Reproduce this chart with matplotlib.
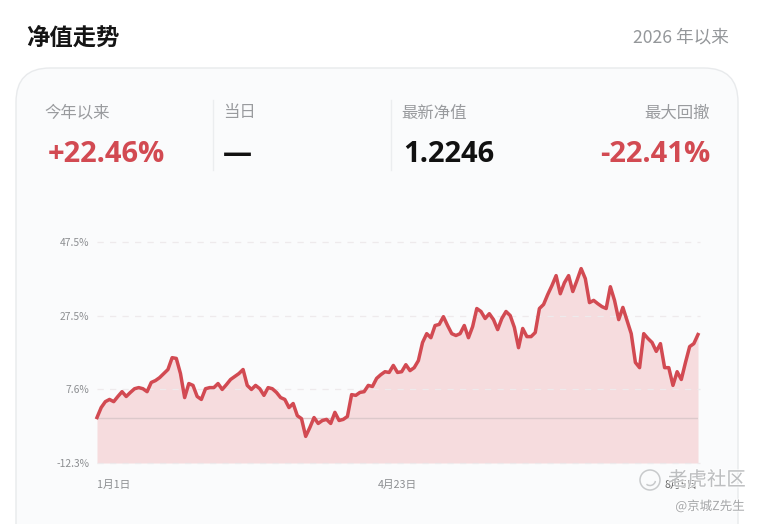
import matplotlib
matplotlib.use("Agg")
import matplotlib.pyplot as plt
from matplotlib.patches import FancyBboxPatch, Circle, Arc
import matplotlib.patheffects as pe

plt.rcParams['font.family'] = ['Noto Sans CJK SC', 'DejaVu Sans']

# Return since the start of the year, percent, one value per trading day
returns = [
    0.0, 2.7, 4.3, 4.9, 4.3, 5.7, 7.0, 5.7, 6.8, 7.8, 8.1, 7.8, 7.0, 9.5, 10.0, 10.8,
    11.9, 13.0, 16.2, 16.0, 11.9, 5.4, 9.2, 8.7, 5.7, 4.9, 7.8, 8.1, 8.1, 9.2, 7.6, 8.9,
    10.3, 11.1, 11.9, 13.0, 8.7, 7.6, 8.7, 7.8, 6.0, 8.1, 7.8, 6.8, 5.4, 4.9, 2.7, 3.8,
    0.5, -0.3, -5.1, -2.7, 0.0, -1.6, -0.8, -0.5, -1.6, 1.4, -0.8, -0.5, 0.3, 6.2, 6.0,
    6.8, 7.0, 8.7, 8.4, 10.6, 11.6, 12.4, 12.2, 14.1, 12.2, 12.4, 14.3, 12.7, 13.5, 15.4,
    20.3, 22.7, 21.6, 24.9, 25.2, 27.3, 24.9, 22.7, 22.2, 22.7, 24.9, 21.6, 24.6, 29.5,
    28.7, 26.8, 28.1, 26.5, 23.8, 26.8, 28.7, 27.6, 24.4, 18.9, 24.1, 21.9, 21.9, 23.0,
    29.5, 30.6, 33.3, 35.7, 38.4, 33.5, 36.5, 38.4, 34.1, 37.1, 40.3, 37.6, 31.1, 31.7,
    30.8, 30.0, 29.5, 35.4, 31.7, 26.5, 29.8, 26.2, 22.7, 14.9, 13.5, 22.7, 21.4, 20.3,
    17.9, 20.0, 13.5, 13.5, 8.7, 12.4, 10.3, 14.9, 19.2, 20.0, 22.46,
]
y_ticks = [-12.3, 7.6, 27.5, 47.5]
y_tick_labels = ['-12.3%', '7.6%', '27.5%', '47.5%']
date_labels = ['1月1日', '4月23日', '8月5日']

stat_names = ['今年以来', '当日', '最新净值', '最大回撤']
stat_values = ['+22.46%', '—', '1.2246', '-22.41%']

W, H = 760, 524
RED = '#d24a52'
GREY = '#999b9e'


def px(x, y):
    return x / W, 1 - y / H


fig = plt.figure(figsize=(W / 100, H / 100), dpi=100, facecolor='white')

# page layer in pixel coordinates, y going down
bg = fig.add_axes([0, 0, 1, 1])
bg.set_xlim(0, W)
bg.set_ylim(H, 0)
bg.axis('off')
card = FancyBboxPatch((16, 68), 722, 520, boxstyle='round,pad=0,rounding_size=34',
                      fc='#fafbfc', ec='#e8eaec', lw=1.0)
bg.add_patch(card)
bg.plot([213, 213], [100, 170], color='#ebedef', lw=1)
bg.plot([391, 391], [100, 170], color='#ebedef', lw=1)

fig.text(*px(26, 37.5), '净值走势', fontsize=16.8, fontweight='bold', color='#151515', va='center')
fig.text(*px(729, 37.5), '2026 年以来', fontsize=12.7, color='#94979a', va='center', ha='right')

# stat row
label_x = [44, 223, 401, 710]
value_x = [48, 223, 403, 710]
for i in range(4):
    ha = 'right' if i == 3 else 'left'
    fig.text(*px(label_x[i], 113), stat_names[i], fontsize=11.8, color=GREY, va='center', ha=ha)
    col = RED if i in (0, 3) else '#111111'
    fig.text(*px(value_x[i], 154), stat_values[i], fontsize=21, fontweight='bold', color=col,
             va='center', ha=ha, family=['Open Sans', 'Noto Sans CJK SC'])

# chart
ax = fig.add_axes([97 / W, 1 - 463 / H, 601 / W, 221 / H])
ax.patch.set_alpha(0)
x = list(range(len(returns)))
ax.fill_between(x, returns, y_ticks[0], color='#f6dcde', lw=0, zorder=1)
ax.axhline(0, color='#dcc9cb', lw=1, zorder=2)
for t in y_ticks:
    ax.plot([0, len(returns) - 0.5], [t, t], color='#eeeaec', lw=0.9, dashes=(5, 5), zorder=2,
            clip_on=False)
ax.plot(x, returns, color=RED, lw=2.5, solid_joinstyle='round', zorder=3, clip_on=False)
ax.set_xlim(0, len(returns) - 1)
ax.set_ylim(y_ticks[0], y_ticks[-1])
for s in ax.spines.values():
    s.set_visible(False)
ax.set_yticks(y_ticks, y_tick_labels, fontsize=7.4, color='#8c8e91')
ax.set_xticks([0, (len(returns) - 1) / 2, len(returns) - 1], date_labels, fontsize=7.7, color='#8c8e91')
ax.tick_params(axis='x', length=0, pad=12)
ax.tick_params(axis='y', length=0, pad=5.5)
xlabels = ax.get_xticklabels()
xlabels[0].set_ha('left')
xlabels[2].set_ha('right')
xlabels[2].set_color('#666666')

# watermark over the corner
halo = [pe.withStroke(linewidth=1.5, foreground='white', alpha=0.7)]
bg2 = fig.add_axes([0, 0, 1, 1])
bg2.set_xlim(0, W)
bg2.set_ylim(H, 0)
bg2.axis('off')
bg2.add_patch(Circle((650, 480), 10, fc='none', ec='#c8cacc', lw=1.1))
bg2.add_patch(Arc((650, 480), 11, 11, theta1=10, theta2=130, ec='#c8cacc', lw=1.1))
fig.text(*px(707, 480), '老虎社区', fontsize=14, color='#b4b6b8', ha='center', va='center',
         alpha=0.85, path_effects=halo)
fig.text(*px(710, 506), '@京城Z先生', fontsize=9, color='#a8aaac', ha='center', va='center',
         path_effects=halo)

fig.savefig('out.png', dpi=100, facecolor='white')
